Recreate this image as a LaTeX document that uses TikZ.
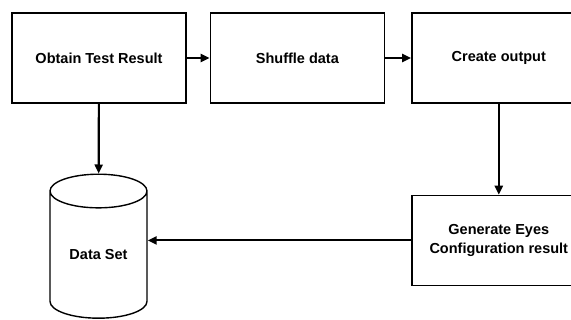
\documentclass[tikz,border=0pt]{standalone}
\usepackage{fontspec}
\setmainfont{Liberation Sans}
\usetikzlibrary{positioning,arrows.meta,shapes.geometric}

\begin{document}
\begin{tikzpicture}[x=1pt,y=-1pt,
		stepbox/.style={draw,line width=1.4pt,minimum width=174pt,minimum height=90pt,inner sep=0pt,align=center,font=\fontsize{14.5}{19}\selectfont\bfseries},
		store/.style={draw,cylinder,shape border rotate=90,aspect=0.58,line width=1.4pt,minimum width=97pt,minimum height=144pt,inner sep=0pt,font=\fontsize{14.5}{19}\selectfont\bfseries},
		flow/.style={line width=2.2pt,-{Triangle[length=9pt,width=8pt]}}]
		\clip (0,0) rectangle (571,320);

		\node[stepbox]								(obtain)	at (99,58)	{Obtain Test Result};
		\node[stepbox,node distance=23pt,right=of obtain]	(shuffle)			{Shuffle data};
		\node[stepbox,node distance=26pt,right=of shuffle]	(create)			{Create output};
		\node[stepbox,node distance=91pt,below=of create]	(generate)			{Generate Eyes\\Configuration result};
		\node[store,anchor=north]						(dataset)	at (98.5,173.5)	{\raisebox{-5pt}[0pt][0pt]{Data Set}};

		\draw[flow] (obtain) -- (dataset);
		\draw[flow] (obtain) -- (shuffle);
		\draw[flow] (shuffle) -- (create);
		\draw[flow] (create) -- (generate);
		\draw[flow] (generate.west) -- (generate.west -| dataset.east);
	\end{tikzpicture}
\end{document}
